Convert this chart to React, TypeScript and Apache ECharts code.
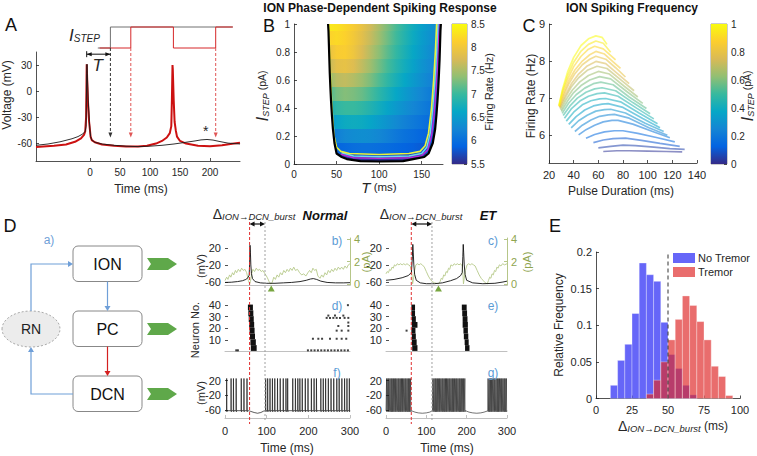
import React, { useEffect, useRef } from "react";
import * as echarts from "echarts";

const FONT = "Liberation Sans, Arial, Helvetica, sans-serif";
const AX = "#262626";
const GRAYAX = "#b0b0b0";
const PARULA = ["#352a87", "#0363e1", "#1485d4", "#06a7c6", "#38b99e", "#92bf73", "#d9ba56", "#fcce2e", "#f9fb0e"];

function hexToRgb(h: string) {
  return [parseInt(h.slice(1, 3), 16), parseInt(h.slice(3, 5), 16), parseInt(h.slice(5, 7), 16)];
}
function parulaColor(t: number) {
  const c = Math.max(0, Math.min(1, t)) * (PARULA.length - 1);
  const i = Math.min(PARULA.length - 2, Math.floor(c));
  const f = c - i;
  const a = hexToRgb(PARULA[i]);
  const b = hexToRgb(PARULA[i + 1]);
  const m = a.map((v, k) => Math.round(v + (b[k] - v) * f));
  return `rgb(${m[0]},${m[1]},${m[2]})`;
}
const parulaStops = () => PARULA.map((c, i) => ({ offset: i / (PARULA.length - 1), color: c }));

// ---------------- Panel A data ----------------
const aTimeTicks = [0, 50, 100, 150, 200];
const aVoltTicks = [-60, -30, 0, 30];
const aStepBlack = [[13, 0], [34, 0], [34, 1], [238, 1]];
const aStepRed = [[16, 0], [68, 0], [68, 1], [139, 1], [139, 0], [209.5, 0], [209.5, 1], [238, 1]];
const aVoltBlack = [
  [-90, -62], [-70, -60.5], [-50, -58], [-30, -54.5], [-20, -52], [-12, -49], [-8, -46], [-6.5, -40], [-6, -10], [-5.5, 20],
  [-5, 31], [-4.5, 20], [-3, -10], [-1, -35], [0, -45], [1, -52], [3, -56], [8, -58.5], [20, -60.5], [40, -62], [60, -63],
  [80, -63.5], [100, -63], [120, -62], [140, -60.5], [160, -58.5], [175, -57], [185, -55.8], [195, -55.3], [205, -56],
  [215, -57.5], [230, -59.5], [250, -60.5],
];
const aVoltRed = [
  [-90, -64], [-60, -62.5], [-40, -61], [-25, -58], [-15, -54], [-10, -50], [-8, -46], [-6.5, -30], [-6, 0], [-5.5, 31],
  [-5, 20], [-3.5, -10], [-1.5, -35], [0, -45], [1, -52], [3, -56], [8, -58.5], [20, -61], [40, -62.5], [60, -63.5],
  [80, -63.5], [95, -62.5], [110, -60], [120, -57], [128, -53], [133, -48], [135.5, -40], [136.5, -10], [137.5, 30],
  [138, 25], [139.5, -10], [141, -35], [143, -45], [145, -52], [150, -57], [160, -60], [180, -62.5], [200, -63],
  [220, -62], [240, -60], [250, -59],
];
const aArrowBlack = 34;
const aArrowRed = [68, 209.5];

// ---------------- Panel B data ----------------
const bColT = [40, 50, 60, 70, 80, 90, 100, 110, 120, 130, 140, 150, 160, 170];
const bEdgeI = [0.02, 0.035, 0.05, 0.075, 0.15, 0.25, 0.35, 0.45, 0.55, 0.65, 0.75, 0.85, 0.95, 1.0];
const bEdgeLeftT = [78, 62, 56, 50, 47.5, 45.7, 44.5, 43.5, 42.7, 42, 41.5, 41, 40.5, 40];
const bEdgeRightT = [128, 140, 153, 158, 163, 165.8, 167.3, 168.5, 169.5, 170.3, 171, 171.5, 172, 172.5];
const bBandRate = [
  [5.55, 5.55, 5.55, 5.55, 5.55, 5.55, 5.55, 5.55, 5.55, 5.55, 5.55, 5.55, 5.55, 5.55],
  [5.6, 5.6, 5.6, 5.62, 5.63, 5.63, 5.63, 5.62, 5.61, 5.6, 5.6, 5.6, 5.6, 5.6],
  [5.6, 5.65, 5.7, 5.72, 5.74, 5.75, 5.75, 5.74, 5.72, 5.7, 5.68, 5.65, 5.6, 5.6],
  [5.85, 5.9, 5.95, 6.0, 6.02, 6.02, 6.0, 5.97, 5.93, 5.9, 5.86, 5.82, 5.78, 5.75],
  [6.1, 6.18, 6.28, 6.33, 6.35, 6.33, 6.27, 6.19, 6.11, 6.04, 5.98, 5.92, 5.86, 5.8],
  [6.45, 6.58, 6.68, 6.7, 6.68, 6.6, 6.5, 6.4, 6.3, 6.21, 6.13, 6.05, 5.97, 5.9],
  [6.8, 6.93, 7.0, 7.0, 6.94, 6.84, 6.72, 6.59, 6.47, 6.36, 6.26, 6.17, 6.07, 5.99],
  [7.1, 7.25, 7.32, 7.28, 7.2, 7.07, 6.92, 6.77, 6.62, 6.49, 6.37, 6.26, 6.15, 6.07],
  [7.4, 7.58, 7.63, 7.55, 7.43, 7.28, 7.1, 6.93, 6.77, 6.62, 6.48, 6.35, 6.23, 6.13],
  [7.65, 7.86, 7.9, 7.8, 7.62, 7.44, 7.24, 7.05, 6.88, 6.72, 6.57, 6.42, 6.29, 6.18],
  [7.9, 8.08, 8.1, 7.97, 7.77, 7.56, 7.35, 7.15, 6.96, 6.79, 6.63, 6.48, 6.34, 6.22],
  [8.15, 8.22, 8.15, 8.02, 7.85, 7.65, 7.44, 7.23, 7.03, 6.85, 6.68, 6.52, 6.38, 6.26],
  [8.35, 8.3, 8.2, 8.07, 7.9, 7.7, 7.49, 7.28, 7.07, 6.88, 6.71, 6.55, 6.41, 6.29],
];
const bContourBlack = [
  [40, 1], [40.5, 0.95], [41, 0.85], [41.5, 0.75], [42, 0.65], [42.7, 0.55], [43.5, 0.45], [44.5, 0.35], [45.7, 0.25],
  [47.5, 0.15], [50, 0.075], [56, 0.05], [62, 0.035], [78, 0.02], [100, 0.018], [128, 0.02], [140, 0.035], [153, 0.05],
  [158, 0.075], [163, 0.15], [165.8, 0.25], [167.3, 0.35], [168.5, 0.45], [169.5, 0.55], [170.3, 0.65], [171, 0.75],
  [171.5, 0.85], [172, 0.95], [172.5, 1.0],
];
const bContourMagenta = [[55, 0.07], [70, 0.045], [100, 0.04], [135, 0.045], [150, 0.06], [157, 0.1], [161.5, 0.2], [164.5, 0.35], [167, 0.55], [169, 0.75], [170.5, 1.0]];
const bContourCyan = [[56, 0.08], [70, 0.057], [100, 0.052], [135, 0.057], [150, 0.075], [156, 0.12], [160, 0.22], [163, 0.4], [165.5, 0.6], [167.5, 0.8], [169, 1.0]];
const bContourYellow = [
  [41, 1.0], [41.8, 0.8], [43, 0.6], [44.5, 0.4], [47, 0.2], [50, 0.12], [55, 0.09], [65, 0.075], [100, 0.068],
  [135, 0.075], [148, 0.09], [154, 0.13], [158, 0.22], [161.5, 0.4], [164, 0.6], [166, 0.8], [167.5, 1.0],
];

// ---------------- Panel C data ----------------
const cLevels = [1.0, 0.95, 0.9, 0.85, 0.8, 0.75, 0.7, 0.65, 0.6, 0.55, 0.5, 0.45, 0.4, 0.35, 0.3, 0.25, 0.2, 0.15, 0.1, 0.05, 0.02];
const cCurves = [
  [[28, 6.8], [31, 7.25], [35, 7.7], [40, 8.1], [46, 8.42], [52, 8.6], [58, 8.68], [63, 8.64], [67, 8.45]],
  [[28.1, 6.79], [31, 7.2], [35, 7.6], [40, 7.97], [46, 8.27], [52, 8.45], [58, 8.54], [64, 8.48], [70, 8.24]],
  [[28.3, 6.78], [31, 7.15], [35, 7.5], [40, 7.85], [46, 8.13], [52, 8.32], [57, 8.4], [64, 8.33], [74, 8.03]],
  [[28.4, 6.77], [32, 7.15], [36, 7.47], [41, 7.76], [47, 8.0], [53, 8.17], [58, 8.26], [65, 8.19], [72, 7.98], [78, 7.8]],
  [[28.6, 6.76], [32, 7.08], [36, 7.38], [41, 7.66], [47, 7.9], [53, 8.05], [58, 8.13], [66, 8.05], [74, 7.82], [82, 7.57]],
  [[28.8, 6.74], [33, 7.07], [38, 7.38], [44, 7.65], [51, 7.87], [58, 7.99], [66, 7.93], [76, 7.65], [85, 7.39]],
  [[29, 6.72], [33, 7.0], [38, 7.3], [44, 7.55], [51, 7.75], [59, 7.86], [67, 7.8], [78, 7.5], [89, 7.2]],
  [[29.5, 6.68], [34, 6.97], [39, 7.22], [45, 7.44], [52, 7.61], [60, 7.72], [69, 7.65], [81, 7.32], [92, 7.03]],
  [[30, 6.64], [35, 6.92], [40, 7.15], [46, 7.34], [53, 7.49], [61, 7.58], [70, 7.52], [83, 7.18], [96, 6.86]],
  [[30.7, 6.59], [36, 6.87], [42, 7.09], [49, 7.27], [56, 7.39], [62, 7.43], [72, 7.36], [85, 7.03], [99, 6.72]],
  [[31.5, 6.53], [37, 6.79], [43, 7.0], [50, 7.16], [57, 7.25], [63, 7.28], [74, 7.2], [88, 6.88], [102, 6.58]],
  [[32.5, 6.46], [38, 6.71], [45, 6.92], [52, 7.05], [59, 7.12], [65, 7.14], [76, 7.05], [91, 6.73], [105, 6.44]],
  [[34, 6.38], [40, 6.62], [47, 6.82], [54, 6.93], [61, 6.98], [66, 6.99], [78, 6.9], [93, 6.6], [108, 6.31]],
  [[36, 6.29], [42, 6.5], [49, 6.68], [56, 6.79], [63, 6.84], [68, 6.85], [80, 6.75], [96, 6.45], [110, 6.2]],
  [[38, 6.2], [44, 6.39], [51, 6.54], [58, 6.65], [65, 6.69], [70, 6.7], [82, 6.6], [98, 6.32], [113, 6.1]],
  [[41, 6.1], [47, 6.27], [54, 6.41], [61, 6.51], [68, 6.55], [73, 6.56], [85, 6.46], [101, 6.2], [116, 6.0]],
  [[44, 6.01], [50, 6.15], [57, 6.27], [64, 6.36], [71, 6.4], [76, 6.4], [88, 6.3], [104, 6.1], [118, 5.93]],
  [[50, 5.92], [57, 6.02], [65, 6.09], [73, 6.12], [80, 6.12], [92, 6.05], [108, 5.93], [122, 5.82]],
  [[56, 5.8], [64, 5.87], [72, 5.91], [82, 5.92], [95, 5.86], [110, 5.78], [126, 5.7]],
  [[60, 5.66], [70, 5.7], [80, 5.73], [90, 5.72], [105, 5.68], [118, 5.64], [130, 5.62]],
  [[64, 5.56], [75, 5.58], [85, 5.58], [100, 5.57], [115, 5.56], [128, 5.55]],
];

// ---------------- Panel D data ----------------
const dTimeTicks = [0, 100, 200, 300];
const dNormIonV = [
  [0, -61], [15, -60.5], [30, -59], [42, -57], [50, -54], [55, -50], [58, -44], [59, -20], [60, 26], [61, 10], [62, -20],
  [63.5, -40], [66, -52], [72, -59], [85, -62], [100, -63], [120, -63], [140, -62], [160, -61], [180, -59], [195, -56],
  [205, -53], [212, -52], [220, -54], [230, -58], [245, -61], [265, -62], [285, -62], [300, -61.5],
];
const dNormIonI = [
  [0, 0.3], [4, 0.6], [7, 0.4], [11, 0.8], [14, 0.6], [18, 1.0], [21, 0.8], [25, 1.2], [28, 1.0], [32, 1.3], [36, 1.1],
  [40, 1.4], [44, 1.2], [48, 1.3], [52, 1.0], [56, 0.3], [59, 0.0], [61, 0.2], [64, 0.9], [67, 1.3], [71, 1.1], [75, 1.4],
  [79, 1.2], [83, 1.3], [87, 1.1], [91, 1.2], [96, 0.9], [101, 0.6], [106, 0.2], [110, 0.0], [113, 0.1], [117, 0.6],
  [121, 0.4], [125, 0.8], [129, 0.6], [133, 1.0], [137, 0.8], [141, 1.2], [145, 1.0], [149, 1.3], [153, 1.1], [157, 1.4],
  [161, 1.2], [165, 1.5], [169, 1.2], [174, 1.3], [179, 1.0], [184, 0.8], [189, 0.9], [194, 0.7], [199, 1.0], [203, 1.2],
  [207, 1.0], [211, 1.4], [215, 1.2], [219, 1.3], [223, 0.7], [228, 0.5], [232, 0.8], [236, 0.6], [240, 1.0], [244, 0.8],
  [248, 1.2], [252, 1.0], [256, 1.3], [260, 1.1], [264, 1.4], [268, 1.2], [272, 1.5], [276, 1.3], [280, 1.5], [284, 1.3],
  [288, 1.6], [292, 1.4], [296, 1.7], [300, 1.8],
];
const dEtIonV = [
  [0, -56], [20, -54], [40, -50], [55, -45], [63, -38], [65.5, 0], [66.5, 28], [67.5, 10], [69, -20], [71, -42], [75, -56],
  [85, -62], [100, -64], [120, -64], [140, -62], [160, -57], [175, -52], [185, -45], [189, -38], [190.5, 0], [191.5, 28],
  [192.5, 10], [194, -20], [196, -42], [200, -56], [215, -62], [240, -64], [270, -63], [290, -60], [300, -58],
];
const dEtIonI = [
  [0, 0.9], [3, 1.1], [6, 1.0], [9, 1.3], [12, 1.2], [15, 1.5], [18, 1.4], [21, 1.7], [24, 1.6], [28, 1.8], [32, 1.7],
  [36, 1.8], [40, 1.7], [44, 1.8], [48, 1.7], [52, 1.8], [56, 1.7], [60, 1.6], [64, 1.0], [66, 0.0], [68, 0.4], [71, 1.2],
  [74, 1.7], [78, 1.8], [82, 1.7], [86, 1.8], [90, 1.7], [95, 1.5], [100, 1.1], [105, 0.7], [110, 0.4], [115, 0.2],
  [120, 0.1], [125, 0.05], [130, 0.0], [134, 0.2], [137, 0.5], [140, 0.4], [143, 0.8], [146, 0.7], [149, 1.1], [152, 1.0],
  [155, 1.4], [158, 1.3], [161, 1.7], [165, 1.6], [169, 1.8], [173, 1.7], [177, 1.8], [181, 1.7], [185, 1.8], [189, 1.6],
  [191, 0.8], [192, 0.0], [194, 0.5], [197, 1.2], [201, 1.7], [205, 1.8], [209, 1.7], [213, 1.8], [217, 1.7], [221, 1.6],
  [226, 1.2], [231, 0.8], [236, 0.5], [241, 0.3], [246, 0.1], [251, 0.0], [254, 0.3], [257, 0.6], [260, 0.5], [263, 0.9],
  [266, 0.8], [269, 1.2], [272, 1.1], [275, 1.5], [278, 1.4], [281, 1.7], [285, 1.6], [289, 1.8], [294, 1.7], [300, 1.8],
];
// raster bursts: [neuronLo, neuronHi, tStart, tEnd]
const dNormBurst = [
  [36, 40, 55, 67], [31, 35, 56, 68], [26, 30, 57, 69], [21, 25, 58, 70], [16, 20, 59, 71], [11, 15, 60, 72], [6, 10, 61, 74], [1, 5, 62, 76],
];
const dEtBurst = [
  [36, 40, 63, 72], [31, 35, 63, 72], [26, 30, 64, 74], [21, 25, 64, 78], [16, 20, 63, 73], [11, 15, 64, 74], [6, 10, 64, 76], [1, 5, 65, 78],
  [36, 40, 188, 200], [31, 35, 189, 201], [26, 30, 190, 202], [21, 25, 190, 203], [16, 20, 192, 203], [11, 15, 193, 204], [6, 10, 195, 205], [1, 5, 196, 207],
];
const dNormDots = [
  [27, 1], [31, 1], [199, 1], [207, 1], [215, 1], [223, 1], [231, 1], [239, 1], [247, 1], [255, 1], [263, 1], [271, 1], [279, 1], [287, 1], [295, 1],
  [211, 11], [224, 11], [233, 11], [252, 11], [268, 11], [280, 11], [291, 11], [268, 18], [280, 18], [296, 18], [272, 22], [296, 22],
  [244, 29], [252, 29], [260, 29], [268, 29], [276, 29], [287, 29], [296, 29], [248, 31], [264, 31], [284, 31], [296, 25], [295, 40],
];
const dEtDots = [[51, 18]];
const dNormDcnSpikes = [
  4, 14.6, 20.3, 26.8, 39, 45.5, 52.8, 97.6, 102.4, 108, 113.8, 119.5, 126, 132.5, 139.8, 146.3, 150.4, 162.6, 169, 174.8,
  179.7, 185.4, 192.7, 199.2, 207.3, 213.8, 219.5, 230, 235.8, 241.5, 248, 254.5, 261, 268.3, 274, 280.5, 287, 292.7, 298.4,
];
const dNormDcnRest = [[0, -62], [56, -62], [62, -64], [70, -67], [78, -69], [86, -67], [93, -63], [300, -62]];
const dEtDcnSpikes = [
  1.5, 4.5, 7, 10, 13, 15.5, 18.5, 21.5, 24, 27, 30, 32.5, 35.5, 38.5, 41, 44, 47, 49.5, 52.5, 55.5, 58, 61,
  116, 119, 122, 124.5, 127.5, 130.5, 133, 136, 139, 141.5, 144.5, 147.5, 150, 153, 156, 158.5, 161.5, 164.5, 167, 170,
  173, 175.5, 178.5, 181.5, 184, 187, 190, 192.5, 195.5,
  253, 256, 259, 261.5, 264.5, 267.5, 270, 273, 276, 278.5, 281.5, 284.5, 287, 290, 293, 295.5, 298.5,
];
const dEtDcnRest = [
  [0, -62], [63, -62], [72, -66], [80, -68], [90, -69], [100, -68], [108, -66], [114, -63],
  [198, -62], [206, -66], [215, -68], [225, -69], [235, -68], [243, -66], [251, -63], [300, -62],
];
const dNormMarkers = { ion: 59, dcn: 96, tri: 111 };
const dEtMarkers = { ion: 62.7, dcn: 114, tri: 130 };

// ---------------- Panel E data ----------------
const eBinWidth = 5;
const eNoTremorStart = 10;
const eNoTremor = [0.018, 0.052, 0.074, 0.116, 0.185, 0.169, 0.16, 0.104, 0.06, 0.041, 0.018, 0.005];
const eTremorStart = 35;
const eTremor = [0.006, 0.025, 0.05, 0.08, 0.108, 0.14, 0.127, 0.105, 0.08, 0.044, 0.03, 0.004];
const eThreshold = 50;

// ---------------- helpers ----------------
function spikeTrace(spikes: number[], rest: number[][], base: number, peak: number) {
  const pts: number[][] = [];
  spikes.forEach((s) => {
    pts.push([s - 0.4, base], [s, peak], [s + 0.5, base - 3], [s + 1.4, base]);
  });
  rest.forEach((r) => pts.push(r));
  pts.sort((a, b) => a[0] - b[0]);
  return pts;
}
const rateColor = (v: number) => parulaColor((v - 5.5) / 3);

function ax(gi: number, min: number, max: number, o: any = {}) {
  return {
    gridIndex: gi, type: "value", min, max,
    axisLine: { show: o.line !== false, onZero: false, lineStyle: { color: o.lineColor || AX, width: o.lineWidth || 0.8 } },
    axisTick: { show: !!o.ticks, inside: true, length: 3, customValues: o.ticks, lineStyle: { color: o.lineColor || AX, width: 0.8 } },
    axisLabel: {
      show: !!o.ticks && o.labels !== false, customValues: o.ticks, fontSize: o.fontSize || 10, color: o.labelColor || AX,
      fontFamily: FONT, margin: o.margin || 4,
    },
    splitLine: { show: false },
    position: o.position,
  };
}
function hidden(gi: number, min: number, max: number) {
  return { gridIndex: gi, type: "value", min, max, show: false, axisLine: { onZero: false }, splitLine: { show: false } };
}
const range = (a: number, b: number, s: number) => {
  const r: number[] = [];
  for (let v = a; v <= b + 1e-9; v += s) r.push(Math.round(v * 1000) / 1000);
  return r;
};
const line = (name: string, xi: number, yi: number, data: any, color: string, width: number, extra: any = {}) => ({
  type: "line", name, xAxisIndex: xi, yAxisIndex: yi, data, symbol: "none", silent: true,
  lineStyle: { color, width, ...(extra.lineStyle || {}) }, z: extra.z || 2, clip: extra.clip !== undefined ? extra.clip : true,
});
const rectSeries = (xi: number, yi: number, data: any[], fill: any, stroke?: string) => ({
  type: "custom", xAxisIndex: xi, yAxisIndex: yi, data, silent: true,
  renderItem: (p: any, api: any) => {
    const a = api.coord([api.value(0), api.value(3)]);
    const b = api.coord([api.value(1), api.value(2)]);
    return {
      type: "rect", shape: { x: a[0], y: a[1], width: b[0] - a[0], height: b[1] - a[1] },
      style: { fill: typeof fill === "function" ? fill(p.dataIndex) : fill, stroke: stroke || "none", lineWidth: 0.6 },
    };
  },
});

function buildOption() {
  const grids = [
    { left: 36, top: 27, width: 204, height: 21 }, // 0 A step
    { left: 36, top: 52, width: 204, height: 109 }, // 1 A
    { left: 294, top: 24, width: 149, height: 140 }, // 2 B
    { left: 452, top: 24, width: 15, height: 140, show: true, borderColor: "#555", borderWidth: 0.6 }, // 3 Bcb
    { left: 549, top: 24, width: 148, height: 139 }, // 4 C
    { left: 711, top: 24, width: 16, height: 140, show: true, borderColor: "#555", borderWidth: 0.6 }, // 5 Ccb
    { left: 225, top: 238, width: 125, height: 47 }, // 6 b
    { left: 386, top: 238, width: 121, height: 47 }, // 7 c
    { left: 225, top: 304, width: 125, height: 47.5 }, // 8 d
    { left: 386, top: 304, width: 121, height: 47.5 }, // 9 e
    { left: 225, top: 377, width: 125, height: 41 }, // 10 f
    { left: 386, top: 377, width: 121, height: 41 }, // 11 g
    { left: 596, top: 252, width: 144, height: 146.5 }, // 12 E
  ];
  const dX = (gi: number, labels: boolean) =>
    ax(gi, 0, 300, { lineColor: GRAYAX, ticks: labels ? dTimeTicks : undefined, fontSize: 11, labelColor: AX, margin: 7 });
  const xAxis = [
    hidden(0, -90, 250),
    ax(1, -90, 250, { ticks: aTimeTicks, margin: 6 }),
    ax(2, 0, 175, { ticks: [0, 50, 100, 150], margin: 5 }),
    hidden(3, 0, 1),
    ax(4, 20, 140, { ticks: range(20, 140, 20), fontSize: 11, margin: 6 }),
    hidden(5, 0, 1),
    dX(6, false), dX(7, false), dX(8, false), dX(9, false), dX(10, true), dX(11, true),
    ax(12, 0, 100, { ticks: [0, 25, 50, 75, 100], fontSize: 11, margin: 6 }),
  ];
  const dY = (gi: number, ticks: number[], min: number, max: number) =>
    ax(gi, min, max, { ticks, fontSize: 11, line: false, margin: 4 });
  const yAxis = [
    hidden(0, 0, 1),
    ax(1, -80, 45, { ticks: aVoltTicks, fontSize: 10 }),
    ax(2, 0, 1, { ticks: range(0, 1, 0.2), fontSize: 10 }),
    { ...ax(3, 5.5, 8.5, { ticks: range(5.5, 8.5, 0.5), fontSize: 10, line: false }), position: "right" },
    ax(4, 5.25, 9, { ticks: [6, 7, 8, 9], fontSize: 11 }),
    { ...ax(5, 0, 1, { ticks: range(0, 1, 0.2), fontSize: 10, line: false }), position: "right" },
    dY(6, [-60, -20, 20], -67, 43),
    dY(7, [-60, -20, 20], -67, 43),
    dY(8, [10, 20, 30, 40], 0, 41),
    dY(9, [10, 20, 30, 40], 0, 41),
    dY(10, [-60, -20, 20], -82, 30),
    dY(11, [-60, -20, 20], -82, 30),
    ax(12, 0, 0.2, { ticks: range(0, 0.2, 0.05), fontSize: 11 }),
    { ...ax(6, -0.1, 4.1, { ticks: [0, 2, 4], fontSize: 11, lineColor: "#a3b86a", labelColor: "#8fa54f" }), position: "right" },
    { ...ax(7, -0.1, 4.1, { ticks: [0, 2, 4], fontSize: 11, lineColor: "#a3b86a", labelColor: "#8fa54f" }), position: "right" },
  ];

  const series: any[] = [];
  // A
  series.push(line("stepBlack", 0, 0, aStepBlack, "#707070", 1, { clip: false }));
  series.push(line("stepRed", 0, 0, aStepRed, "#d62728", 1, { clip: false }));
  series.push(line("voltRed", 1, 1, aVoltRed, "#cc1111", 2));
  series.push(line("voltBlack", 1, 1, aVoltBlack, "#1a1a1a", 0.9, { z: 3 }));
  // B heatmap bands
  series.push({
    type: "custom", xAxisIndex: 2, yAxisIndex: 2, silent: true, data: bBandRate.map((_, k) => [k]),
    renderItem: (p: any, api: any) => {
      const k = p.dataIndex;
      const top = k === bBandRate.length - 1 ? bEdgeI[k + 1] : bEdgeI[k + 1] + 0.004;
      const pts = [
        api.coord([bEdgeLeftT[k], bEdgeI[k]]), api.coord([bEdgeRightT[k], bEdgeI[k]]),
        api.coord([bEdgeRightT[k + 1], top]), api.coord([bEdgeLeftT[k + 1], top]),
      ];
      const tMin = Math.min(bEdgeLeftT[k], bEdgeLeftT[k + 1]);
      const tMax = Math.max(bEdgeRightT[k], bEdgeRightT[k + 1]);
      const vals = bBandRate[k];
      const stops: any[] = [];
      let first = 0;
      for (let c = 0; c < bColT.length; c++) if (bColT[c] <= tMin) first = c;
      let last = bColT.length - 1;
      for (let c = bColT.length - 1; c >= 0; c--) if (bColT[c] >= tMax) last = c;
      stops.push({ offset: 0, color: rateColor(vals[first]) });
      bColT.forEach((t, c) => {
        const off = (t - tMin) / (tMax - tMin);
        if (off > 0 && off < 1) stops.push({ offset: off, color: rateColor(vals[c]) });
      });
      stops.push({ offset: 1, color: rateColor(vals[last]) });
      return { type: "polygon", shape: { points: pts }, style: { fill: new echarts.graphic.LinearGradient(0, 0, 1, 0, stops) } };
    },
  });
  series.push(line("cBlack", 2, 2, bContourBlack, "#000000", 2.2, { z: 5 }));
  series.push(line("cMag", 2, 2, bContourMagenta, "#c026d3", 1.4, { z: 4 }));
  series.push(line("cCyan", 2, 2, bContourCyan, "#6fd8f2", 1.4, { z: 4 }));
  series.push(line("cYellow", 2, 2, bContourYellow, "#e9f23a", 1.6, { z: 4 }));
  // colorbars
  const cbar = (xi: number, yi: number, lo: number, hi: number) => ({
    type: "custom", xAxisIndex: xi, yAxisIndex: yi, silent: true, data: [[0]],
    renderItem: (p: any, api: any) => {
      const a = api.coord([0, hi]);
      const b = api.coord([1, lo]);
      return {
        type: "rect", shape: { x: a[0], y: a[1], width: b[0] - a[0], height: b[1] - a[1] },
        style: { fill: new echarts.graphic.LinearGradient(0, 1, 0, 0, parulaStops()) },
      };
    },
  });
  series.push(cbar(3, 3, 5.5, 8.5));
  series.push(cbar(5, 5, 0, 1));
  // C curves (low levels first)
  for (let k = cCurves.length - 1; k >= 0; k--) {
    series.push({
      ...line("c" + k, 4, 4, cCurves[k], parulaColor(cLevels[k]), 1),
      lineStyle: { color: parulaColor(cLevels[k]), width: 1.7, opacity: 0.55 },
    });
  }
  // D rows
  series.push(line("nI", 6, 13, dNormIonI, "#b7c98a", 0.9));
  series.push(line("nV", 6, 6, dNormIonV, "#111111", 0.9, { z: 3 }));
  series.push(line("eI", 7, 14, dEtIonI, "#b7c98a", 0.9));
  series.push(line("eV", 7, 7, dEtIonV, "#111111", 0.9, { z: 3 }));
  series.push(rectSeries(8, 8, dNormBurst.map((b) => [b[2], b[3], b[0] - 0.5, b[1] + 0.5]), "#111"));
  series.push(rectSeries(9, 9, dEtBurst.map((b) => [b[2], b[3], b[0] - 0.5, b[1] + 0.5]), "#111"));
  series.push({ type: "scatter", xAxisIndex: 8, yAxisIndex: 8, data: dNormDots, symbol: "rect", symbolSize: 2, itemStyle: { color: "#111" }, silent: true });
  series.push({ type: "scatter", xAxisIndex: 9, yAxisIndex: 9, data: dEtDots, symbol: "rect", symbolSize: 2, itemStyle: { color: "#111" }, silent: true });
  series.push(line("nDcn", 10, 10, spikeTrace(dNormDcnSpikes, dNormDcnRest, -62, 26), "#151515", 0.7));
  series.push(line("eDcn", 11, 11, spikeTrace(dEtDcnSpikes, dEtDcnRest, -62, 26), "#151515", 0.6));
  // E
  series.push(rectSeries(12, 12, eNoTremor.map((f, i) => [eNoTremorStart + i * eBinWidth, eNoTremorStart + (i + 1) * eBinWidth, 0, f]), "rgba(30,30,245,0.68)", "rgba(255,255,255,0.55)"));
  series.push(rectSeries(12, 12, eTremor.map((f, i) => [eTremorStart + i * eBinWidth, eTremorStart + (i + 1) * eBinWidth, 0, f]), "rgba(222,40,40,0.68)", "rgba(255,255,255,0.55)"));
  series.push(line("thr", 12, 12, [[eThreshold, 0], [eThreshold, 0.2]], "#333", 1, { lineStyle: { type: [4, 3] }, z: 5 }));

  return { animation: false, backgroundColor: "#fff", textStyle: { fontFamily: FONT }, grid: grids, xAxis, yAxis, series };
}

function buildGraphics(chart: any) {
  const P = (gi: number, x: number, y: number) => chart.convertToPixel({ gridIndex: gi }, [x, y]) as number[];
  const g: any[] = [];
  const txt = (x: number, y: number, text: string, o: any = {}) =>
    g.push({
      type: "text", x, y, rotation: o.rot || 0, z: 50,
      style: {
        text, fill: o.color || AX, fontSize: o.size || 12, fontFamily: FONT, fontWeight: o.weight || "normal",
        fontStyle: o.style || "normal", align: o.align || "center", verticalAlign: o.va || "middle", rich: o.rich,
      },
    });
  const seg = (x1: number, y1: number, x2: number, y2: number, color: string, w = 1, dash?: any) =>
    g.push({ type: "line", z: 40, shape: { x1, y1, x2, y2 }, style: { stroke: color, lineWidth: w, lineDash: dash } });
  const poly = (points: number[][], fill: string, stroke?: string) =>
    g.push({ type: "polygon", z: 41, shape: { points }, style: { fill, stroke: stroke || "none" } });
  const headDown = (x: number, y: number, c: string, s = 2.5) => poly([[x, y], [x - s, y - 5], [x + s, y - 5]], c);
  const headUp = (x: number, y: number, c: string, s = 2.5) => poly([[x, y], [x - s, y + 5], [x + s, y + 5]], c);
  const headRight = (x: number, y: number, c: string, s = 2.5) => poly([[x, y], [x - 5, y - s], [x - 5, y + s]], c);
  const headLeft = (x: number, y: number, c: string, s = 2.5) => poly([[x, y], [x + 5, y - s], [x + 5, y + s]], c);
  const subRich = (big: number, small: number, italicBig = true) => ({
    a: { fontSize: big, fontStyle: italicBig ? "italic" : "normal", fontFamily: FONT, fill: AX },
    b: { fontSize: small, fontStyle: "italic", fontFamily: FONT, fill: AX, verticalAlign: "bottom", padding: [0, 0, 0, 0] },
    c: { fontSize: small + 1.5, fontFamily: FONT, fill: AX },
  });

  // titles & panel letters
  txt(380, 8, "ION Phase-Dependent Spiking Response", { size: 12, weight: "bold", color: "#111" });
  txt(632, 8, "ION Spiking Frequency", { size: 12, weight: "bold", color: "#111" });
  txt(11, 25, "A", { size: 18, color: "#111" });
  txt(269, 26, "B", { size: 18, color: "#111" });
  txt(529, 26, "C", { size: 18, color: "#111" });
  txt(10, 226, "D", { size: 18, color: "#111" });
  txt(555, 226, "E", { size: 18, color: "#111" });

  // ---- Panel A annotations
  txt(7, 95, "Voltage (mV)", { size: 12, rot: Math.PI / 2 });
  txt(141, 189, "Time (ms)", { size: 12 });
  txt(69, 35, "{a|I}{b|STEP}", { align: "left", rich: subRich(17, 10) });
  {
    const yTop = P(0, 0, 0)[1];
    const xb = P(1, aArrowBlack, 0)[0];
    const yb = P(1, aArrowBlack, -53)[1];
    seg(xb, yTop, xb, yb - 4, "#333", 1, [3, 2]);
    headDown(xb, yb, "#333", 2);
    aArrowRed.forEach((t) => {
      const x = P(1, t, 0)[0];
      seg(x, yTop, x, yb - 4, "#e05555", 1, [3, 2]);
      headDown(x, yb, "#e05555", 2);
    });
    const yT = P(1, 0, 42.5)[1];
    const x0 = P(1, -5.5, 0)[0];
    seg(x0, yT, xb, yT, "#111", 1);
    headLeft(x0, yT, "#111", 2);
    headRight(xb, yT, "#111", 2);
    seg(x0, yT - 3, x0, yT + 3, "#111", 1);
    const tp = P(1, 13, 30);
    txt(tp[0], tp[1], "T", { size: 17, style: "italic" });
    const sp = P(1, 193, -46);
    txt(sp[0], sp[1], "*", { size: 14 });
  }

  // ---- Panel B labels
  txt(262, 96, "{a|I}{b|STEP}{c| (pA)}", { rot: Math.PI / 2, rich: subRich(17, 9) });
  txt(379, 187, "{a|T}{c| (ms)}", { rich: subRich(15, 10) });
  txt(489, 92, "Firing Rate (Hz)", { size: 11, rot: Math.PI / 2 });

  // ---- Panel C labels
  txt(531, 96, "Firing Rate (Hz)", { size: 12, rot: Math.PI / 2 });
  txt(621, 191, "Pulse Duration (ms)", { size: 12 });
  txt(747, 96, "{a|I}{b|STEP}{c| (pA)}", { rot: Math.PI / 2, rich: subRich(17, 9) });

  // ---- Panel D diagram
  const blue = "#6f9fd8";
  g.push({ type: "ellipse", z: 30, shape: { cx: 31, cy: 329, rx: 29, ry: 18 }, style: { fill: "#ececec", stroke: "#aaa", lineWidth: 1, lineDash: [2, 2] } });
  txt(31, 329, "RN", { size: 14, color: "#222" });
  [["ION", 246], ["PC", 311], ["DCN", 376]].forEach(([label, y]: any) => {
    g.push({ type: "rect", z: 30, shape: { x: 73, y, width: 69, height: 35.5, r: 5 }, style: { fill: "#fff", stroke: "#888", lineWidth: 1 } });
    txt(107.5, y + 18, label, { size: 16, color: "#111" });
    const cy = y + 18;
    poly([[147, cy - 6], [168, cy - 6], [177, cy], [168, cy + 6], [147, cy + 6], [151, cy]], "#5fa84a");
  });
  txt(49, 240, "a)", { size: 12, color: blue });
  g.push({ type: "polyline", z: 30, shape: { points: [[31, 311], [31, 264], [68, 264]] }, style: { stroke: blue, lineWidth: 1.2, fill: "none" } });
  headRight(73, 264, blue, 3);
  seg(107.5, 281.5, 107.5, 306, blue, 1.2);
  headDown(107.5, 311, blue, 3);
  seg(107.5, 346.5, 107.5, 371, "#d42020", 1.2);
  headDown(107.5, 376, "#d42020", 3);
  g.push({ type: "polyline", z: 30, shape: { points: [[73, 394], [31, 394], [31, 352]] }, style: { stroke: blue, lineWidth: 1.2, fill: "none" } });
  headUp(31, 347, blue, 3);

  // ---- Panel D traces annotations
  const lblBlue = "#5b9bd5";
  txt(201, 266, "(mV)", { size: 11, rot: Math.PI / 2 });
  txt(195, 330, "Neuron No.", { size: 11, rot: Math.PI / 2 });
  txt(201, 393, "(mV)", { size: 11, rot: Math.PI / 2 });
  txt(366, 262, "(pA)", { size: 11, rot: Math.PI / 2, color: "#8fa54f" });
  txt(527, 262, "(pA)", { size: 11, rot: Math.PI / 2, color: "#8fa54f" });
  txt(287, 448, "Time (ms)", { size: 12 });
  txt(447, 448, "Time (ms)", { size: 12 });
  [[337, 241, "b)"], [493, 241, "c)"], [337, 306, "d)"], [493, 306, "e)"], [337, 373, "f)"], [493, 373, "g)"]].forEach(([x, y, s]: any) =>
    txt(x, y, s, { size: 12, color: lblBlue }));
  const deltaRich = {
    a: { fontSize: 14, fontFamily: FONT, fill: AX },
    b: { fontSize: 9.5, fontStyle: "italic", fontFamily: FONT, fill: AX, verticalAlign: "bottom" },
    c: { fontSize: 12, fontFamily: FONT, fill: AX },
  };
  txt(254, 214, "{a|Δ}{b|ION→DCN_burst}", { rich: deltaRich });
  txt(325, 215, "Normal", { size: 13, weight: "bold", style: "italic", color: "#111" });
  txt(421, 214, "{a|Δ}{b|ION→DCN_burst}", { rich: deltaRich });
  txt(488, 215, "ET", { size: 13, weight: "bold", style: "italic", color: "#111" });
  [[6, dNormMarkers], [7, dEtMarkers]].forEach(([gi, m]: any) => {
    const xr = P(gi, m.ion, 0)[0];
    const xg = P(gi, m.dcn, 0)[0];
    seg(xr, 222, xr, 424, "#e03030", 1, [3, 2]);
    seg(xg, 222, xg, 420, "#a0a0a0", 1, [2, 2]);
    seg(xr + 4, 224, xg - 4, 224, "#111", 1.2);
    headLeft(xr, 224, "#111", 2.5);
    headRight(xg, 224, "#111", 2.5);
    const xt = P(gi, m.tri, 0)[0];
    poly([[xt, 285.5], [xt - 3.5, 291.5], [xt + 3.5, 291.5]], "#78a640");
  });

  // ---- Panel E labels & legend
  txt(559, 325, "Relative Frequency", { size: 12, rot: Math.PI / 2 });
  txt(673, 426, "{a|Δ}{b|ION→DCN_burst}{c| (ms)}", { rich: deltaRich });
  g.push({ type: "rect", z: 30, shape: { x: 673, y: 253, width: 22, height: 10 }, style: { fill: "rgba(30,30,245,0.68)" } });
  g.push({ type: "rect", z: 30, shape: { x: 673, y: 267, width: 22, height: 10 }, style: { fill: "rgba(222,40,40,0.68)" } });
  txt(698, 258, "No Tremor", { size: 11, align: "left" });
  txt(698, 272, "Tremor", { size: 11, align: "left" });
  return g;
}

export default function App() {
  const ref = useRef<HTMLDivElement>(null);
  useEffect(() => {
    document.body.style.margin = "0";
    const chart = echarts.init(ref.current as HTMLDivElement, null, { renderer: "svg" });
    chart.setOption(buildOption() as any);
    chart.setOption({ graphic: buildGraphics(chart) } as any);
    return () => chart.dispose();
  }, []);
  return <div ref={ref} style={{ width: 757, height: 456 }} />;
}
